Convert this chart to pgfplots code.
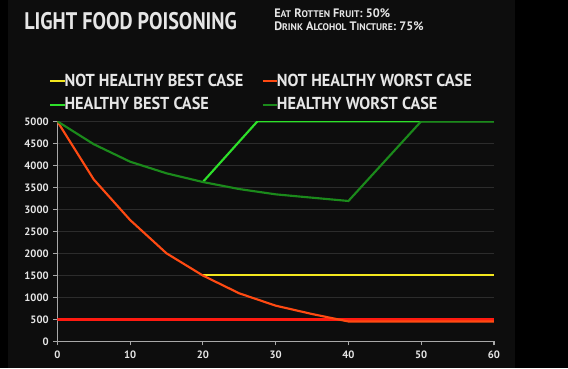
\documentclass[border=0pt]{standalone}
\usepackage{fontspec}
\usepackage{pgfplots}
\pgfplotsset{compat=1.18}
\newfontfamily\titlef{PT Sans}[FakeStretch=0.84]
\newfontfamily\legf{PT Sans}[FakeStretch=0.94]
\setmainfont{PT Sans}
\definecolor{bgc}{HTML}{0D0D0D}
\definecolor{txt}{HTML}{E6E6E6}
\definecolor{gridc}{HTML}{2C2C2C}
\definecolor{axc}{HTML}{A8A8A8}
\definecolor{cyel}{HTML}{F2E61E}
\definecolor{corg}{HTML}{FF4A12}
\definecolor{cred}{HTML}{FF1A10}
\definecolor{cbg}{HTML}{2EE02A}
\definecolor{cdg}{HTML}{1B8A1B}
\newcommand{\sm}[1]{{\fontsize{7.2}{8}\selectfont #1}}
\begin{document}
\begin{tikzpicture}[x=0.75pt,y=0.75pt]
\useasboundingbox (0,0) rectangle (568,368);
\fill[black] (0,0) rectangle (568,368);
\fill[bgc] (8,0) rectangle (515,368);
\node[anchor=west,text=txt,inner sep=0pt] at (24,346.5) {\titlef\bfseries\fontsize{18}{19}\selectfont LIGHT FOOD POISONING};
\node[anchor=west,text=txt,inner sep=0pt] at (274,355) {\bfseries\fontsize{9.2}{10}\selectfont E\sm{AT} R\sm{OTTEN} F\sm{RUIT}: 50\%};
\node[anchor=west,text=txt,inner sep=0pt] at (274,341.5) {\bfseries\fontsize{9.2}{10}\selectfont D\sm{RINK} A\sm{LCOHOL} T\sm{INCTURE}: 75\%};
\begin{axis}[
  at={(42.98pt,20.03pt)}, anchor=origin,
  scale only axis, width=327.5pt, height=165pt,
  xmin=0, xmax=60, ymin=0, ymax=5000,
  axis lines=left, axis line style={axc, line width=1pt, -},
  xtick={0,10,...,60}, ytick={0,500,...,5000},
  tick style={axc, line width=0.8pt},
  tick align=outside, major tick length=3pt,
  ymajorgrids, grid style={gridc, line width=0.9pt},
  /pgf/number format/assume math mode=true,
  /pgf/number format/1000 sep={},
  tick label style={text=txt, font=\bfseries\fontsize{8}{9}\selectfont},
  xticklabel style={yshift=-1pt},
  legend columns=2,
  legend style={at={(-0.019,1.227)}, anchor=north west, draw=none, fill=none,
    text=txt, font=\legf\bfseries\fontsize{13}{14}\selectfont,
    /tikz/every even column/.append style={column sep=11.7pt},
    row sep=2.5pt, inner sep=0pt},
  legend image code/.code={\draw[#1,line width=1.5pt] (0pt,0pt) -- (11pt,0pt);},
  legend cell align=left,
]
\addplot[cred, line width=2pt, forget plot] coordinates {(0,500) (60,500)};
\addplot[cyel, line width=1.6pt] coordinates {(20,1500) (60,1500)};
\addlegendentry{\hspace{-3pt}NOT HEALTHY BEST CASE}
\addplot[corg, line width=1.6pt] coordinates {(0,5000) (5,3680) (10,2757) (15,2000) (20,1495) (25,1090) (30,810) (35,620) (40,450) (60,450)};
\addlegendentry{\hspace{-3pt}NOT HEALTHY WORST CASE}
\addplot[cbg, line width=1.6pt] coordinates {(20,3620) (27.5,5000) (60,5000)};
\addlegendentry{\hspace{-3pt}HEALTHY BEST CASE}
\addplot[cdg, line width=1.6pt] coordinates {(0,5000) (5,4480) (10,4082) (15,3818) (20,3620) (25,3460) (30,3340) (35,3264) (40,3189) (50,5000) (60,5000)};
\addlegendentry{\hspace{-3pt}HEALTHY WORST CASE}
\end{axis}
\end{tikzpicture}
\end{document}
